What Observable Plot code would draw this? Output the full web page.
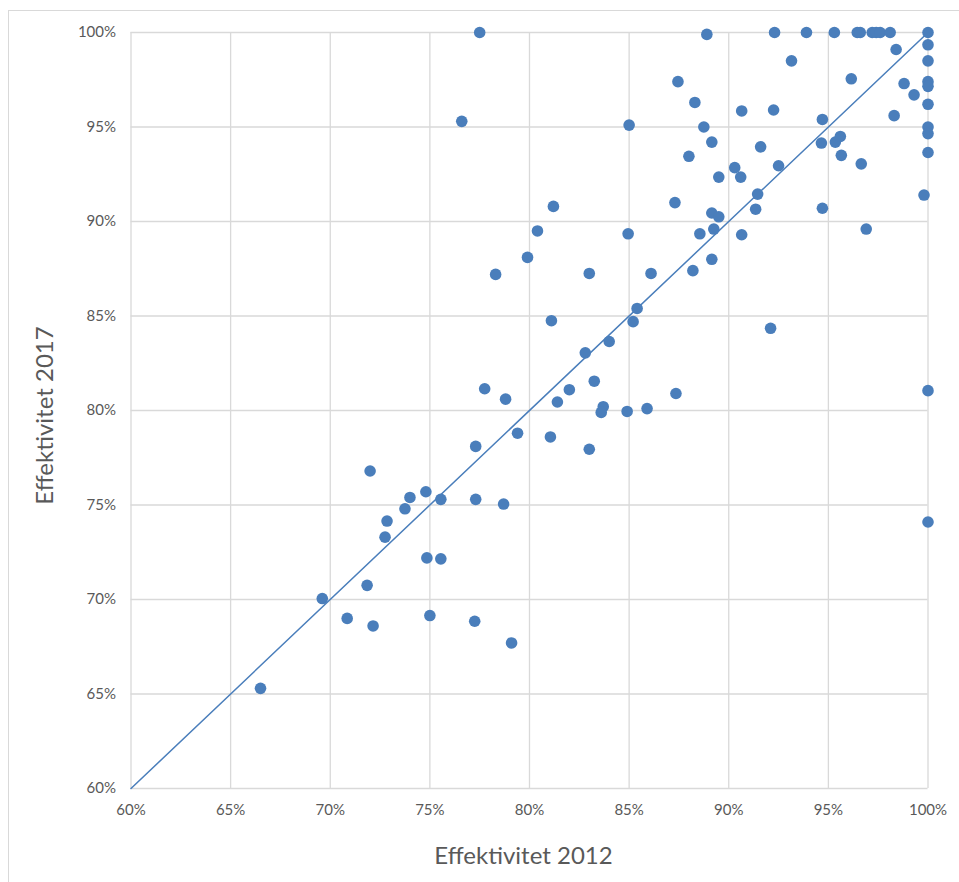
<!DOCTYPE html>
<html>
<head>
<meta charset="utf-8">
<script src="https://cdn.jsdelivr.net/npm/d3@7"></script>
<script src="https://cdn.jsdelivr.net/npm/@observablehq/plot@0.6"></script>
<style>
  html, body { margin: 0; padding: 0; background: #fff; overflow: hidden; }
  #wrap { position: relative; width: 959px; height: 882px; }
  #frame { position: absolute; left: 8px; top: 10px; width: 1000px; height: 1000px;
           border: 1.5px solid #d9d9d9; pointer-events: none; }
</style>
</head>
<body>
<div id="wrap"><div id="frame"></div><div id="chart"></div></div>
<script>
// Effektivitet 2012 (x, %) and Effektivitet 2017 (y, %)
const eff2012 = [
  77.5, 88.9, 92.3, 93.9, 95.3, 96.45, 96.6, 97.2, 97.4, 97.6, 98.1, 100,
  98.4, 100, 93.15, 100, 87.45, 96.15, 98.8, 100, 100, 99.3, 100, 88.3,
  90.65, 92.25, 94.7, 98.3, 85.0, 88.75, 100, 100, 89.15, 94.65, 95.35, 95.6,
  91.6, 88.0, 95.65, 100, 96.65, 90.3, 92.5, 89.5, 90.6, 91.45, 99.8, 87.3,
  81.2, 94.7, 91.35, 89.15, 89.5, 80.4, 84.95, 88.55, 89.25, 90.65, 96.9, 79.9,
  89.15, 78.3, 83.0, 86.1, 88.2, 85.4, 85.2, 81.1, 92.1, 84.0, 82.8, 77.75,
  78.8, 82.0, 83.25, 81.4, 87.35, 100, 83.7, 83.6, 84.9, 85.9, 79.4, 81.05,
  76.6, 77.3, 72.0, 74.8, 74.0, 75.55, 77.3, 73.75, 72.85, 72.75, 74.85, 75.55,
  71.85, 69.6, 70.85, 72.15, 75.0, 77.25, 66.5, 83.0, 78.7, 100, 79.1
];
const eff2017 = [
  100, 99.9, 100, 100, 100, 100, 100, 100, 100, 100, 100, 100,
  99.1, 99.35, 98.5, 98.5, 97.4, 97.55, 97.3, 97.4, 97.15, 96.7, 96.2, 96.3,
  95.85, 95.9, 95.4, 95.6, 95.1, 95.0, 95.0, 94.65, 94.2, 94.15, 94.2, 94.5,
  93.95, 93.45, 93.5, 93.65, 93.05, 92.85, 92.95, 92.35, 92.35, 91.45, 91.4, 91.0,
  90.8, 90.7, 90.65, 90.45, 90.25, 89.5, 89.35, 89.35, 89.6, 89.3, 89.6, 88.1,
  88.0, 87.2, 87.25, 87.25, 87.4, 85.4, 84.7, 84.75, 84.35, 83.65, 83.05, 81.15,
  80.6, 81.1, 81.55, 80.45, 80.9, 81.05, 80.2, 79.9, 79.95, 80.1, 78.8, 78.6,
  95.3, 78.1, 76.8, 75.7, 75.4, 75.3, 75.3, 74.8, 74.15, 73.3, 72.2, 72.15,
  70.75, 70.05, 69.0, 68.6, 69.15, 68.85, 65.3, 77.95, 75.05, 74.1, 67.7
];
// diagonal reference line (x = y)
const diagX = [60, 100];
const diagY = [60, 100];
const tickVals = [60, 65, 70, 75, 80, 85, 90, 95, 100];
const xTitle = "Effektivitet 2012";
const yTitle = "Effektivitet 2017";

const points = eff2012.map((x, i) => ({x, y: eff2017[i]}));
const diag = diagX.map((x, i) => ({x, y: diagY[i]}));

const blue = "#4a7ebb";
const textGray = "#595959";

const chart = Plot.plot({
  width: 959,
  height: 882,
  marginLeft: 130.5,
  marginRight: 31.5,
  marginTop: 32,
  marginBottom: 94,
  style: {fontFamily: "Lato, 'Open Sans', sans-serif", fontSize: "15px", color: textGray, background: "transparent"},
  x: {domain: [60, 100]},
  y: {domain: [60, 100]},
  marks: [
    Plot.gridX(tickVals, {stroke: "#d9d9d9", strokeOpacity: 1, strokeWidth: 1.3}),
    Plot.gridY(tickVals, {stroke: "#d9d9d9", strokeOpacity: 1, strokeWidth: 1.3}),
    Plot.axisX({ticks: tickVals, tickFormat: d => d + "%", tickSize: 0, tickPadding: 16, label: null, fill: textGray}),
    Plot.axisY({ticks: tickVals, tickFormat: d => d + "%", tickSize: 0, tickPadding: 15, label: null, fill: textGray}),
    Plot.line(diag, {x: "x", y: "y", stroke: blue, strokeWidth: 1.5}),
    Plot.dot(points, {x: "x", y: "y", r: 5.8, fill: blue}),
    Plot.text([xTitle], {frameAnchor: "bottom", lineAnchor: "middle", textAnchor: "middle", dy: 68, dx: -6, fontSize: 24, fill: textGray}),
    Plot.text([yTitle], {frameAnchor: "left", lineAnchor: "middle", textAnchor: "middle", dx: -86, dy: 5, rotate: -90, fontSize: 24, fill: textGray})
  ]
});
document.getElementById("chart").appendChild(chart);
</script>
</body>
</html>
